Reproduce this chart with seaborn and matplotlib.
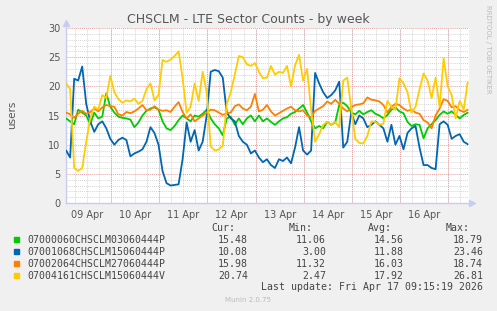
import pandas as pd
import matplotlib
matplotlib.use("Agg")
import matplotlib.pyplot as plt
import matplotlib.dates as mdates
from matplotlib.ticker import MultipleLocator
from matplotlib.patches import Rectangle
import seaborn as sns

# samples every 2 hours
start = "2026-04-09 01:40"
step = "2h"

green = [14.5, 14.0, 13.5, 16.0, 15.5, 15.0, 13.5, 15.5, 14.5, 14.8,
         18.8, 16.5, 15.5, 14.8, 14.6, 14.5, 14.3, 13.0, 13.8, 15.0,
         15.8, 16.2, 16.4, 16.0, 14.0, 12.8, 12.5, 13.2, 14.2, 15.0,
         14.5, 14.0, 15.0, 14.8, 15.3, 16.0, 14.5, 13.5, 12.8, 11.6,
         14.5, 14.8, 13.4, 14.5, 13.5, 14.5, 15.0, 14.0, 15.0, 14.0,
         14.5, 13.9, 13.4, 14.0, 14.5, 14.7, 15.3, 15.6, 16.2, 16.8,
         15.5, 14.0, 12.8, 13.2, 12.8, 13.9, 13.4, 13.8, 16.8, 17.2,
         16.6, 15.5, 15.2, 15.8, 15.2, 15.6, 15.9, 15.3, 15.0, 14.5,
         15.1, 16.0, 16.4, 15.7, 15.4, 13.9, 13.2, 13.5, 13.4, 11.1,
         12.8, 13.5, 14.2, 15.1, 15.7, 15.3, 15.7, 15.1, 14.5, 15.1,
         15.48]
blue = [9.0, 7.8, 21.3, 21.0, 23.4, 17.0, 14.0, 12.2, 13.5, 14.0,
        12.8, 11.0, 10.0, 10.8, 11.2, 10.8, 8.0, 8.5, 8.8, 9.2,
        10.5, 13.0, 12.0, 10.0, 5.5, 3.4, 3.0, 3.1, 3.2, 7.5,
        13.8, 10.5, 12.5, 9.0, 10.5, 15.0, 22.5, 22.8, 22.6, 21.5,
        15.5, 14.5, 14.0, 11.5, 10.5, 10.0, 8.5, 9.0, 7.8, 7.0,
        7.5, 6.5, 6.0, 7.5, 7.2, 7.8, 6.8, 9.5, 13.0, 9.0,
        8.3, 9.0, 22.3, 20.5, 19.0, 18.0, 18.5, 19.3, 20.8, 9.5,
        10.5, 15.5, 13.5, 15.0, 14.5, 13.0, 13.4, 14.0, 13.4, 12.8,
        10.5, 13.4, 10.0, 11.5, 9.2, 12.0, 12.8, 13.2, 9.5, 6.5,
        6.5, 6.0, 5.8, 13.5, 14.0, 13.4, 11.0, 11.5, 11.8, 10.5,
        10.08]
orange = [15.5, 15.2, 14.6, 15.3, 15.8, 15.3, 15.6, 16.2, 15.7, 16.4,
          16.8, 16.6, 16.5, 15.2, 15.0, 15.6, 15.4, 15.7, 16.2, 16.8,
          15.9, 16.0, 16.6, 16.0, 15.8, 15.9, 15.6, 16.5, 17.3, 15.6,
          14.5, 15.2, 14.0, 14.5, 15.0, 15.5, 16.0, 15.9, 15.5, 15.1,
          15.4, 15.5, 16.6, 16.9, 16.2, 15.9, 16.5, 18.7, 15.7, 16.0,
          16.8, 15.7, 15.0, 15.4, 15.8, 16.2, 16.5, 15.9, 15.7, 15.9,
          15.0, 14.7, 15.8, 16.2, 16.6, 17.4, 17.0, 17.7, 17.0, 16.2,
          15.7, 16.4, 16.8, 16.9, 17.1, 18.1, 17.7, 17.6, 17.4, 16.8,
          15.5, 16.5, 17.0, 16.8, 16.2, 15.8, 16.0, 15.5, 15.3, 14.2,
          13.8, 12.8, 15.0, 16.2, 17.8, 17.5, 16.4, 16.6, 15.9, 15.6,
          15.98]
yellow = [20.5, 19.5, 6.0, 5.5, 6.0, 10.5, 14.5, 16.5, 16.0, 18.5,
          18.0, 21.8, 19.0, 17.8, 17.2, 17.6, 17.4, 17.9, 17.0, 17.5,
          19.5, 20.5, 17.6, 18.5, 24.5, 24.2, 24.6, 25.2, 26.0, 21.4,
          15.5, 16.5, 20.5, 17.5, 22.5, 19.0, 9.7, 9.0, 9.2, 9.8,
          17.0, 19.0, 22.0, 25.2, 25.0, 23.8, 23.5, 24.0, 22.5, 21.4,
          21.5, 23.5, 22.0, 22.5, 22.3, 23.5, 20.0, 23.6, 25.4, 21.0,
          23.0, 16.0, 10.5, 11.8, 13.4, 13.9, 13.4, 13.9, 13.0, 21.0,
          21.5, 16.2, 11.0, 10.3, 10.2, 11.5, 14.0, 13.9, 13.4, 13.6,
          17.5, 16.5, 16.0, 21.4, 20.5, 19.0, 15.5, 16.5, 19.5, 22.2,
          21.0, 18.0, 21.5, 16.5, 24.8, 20.0, 18.5, 14.5, 17.5, 16.0,
          20.74]

names = ["07000060CHSCLM03060444P", "07001068CHSCLM15060444P",
         "07002064CHSCLM27060444P", "07004161CHSCLM15060444V"]
colors = ["#00CC00", "#0066B3", "#FF8000", "#FFCC00"]
cur = ["15.48", "10.08", "15.98", "20.74"]
mins = ["11.06", "3.00", "11.32", "2.47"]
avgs = ["14.56", "11.88", "16.03", "17.92"]
maxs = ["18.79", "23.46", "18.74", "26.81"]
day_labels = ["09 Apr", "10 Apr", "11 Apr", "12 Apr", "13 Apr", "14 Apr", "15 Apr", "16 Apr"]

times = pd.date_range(start, periods=len(green), freq=step)
df = pd.DataFrame({"time": times, names[0]: green, names[1]: blue,
                   names[2]: orange, names[3]: yellow})
df = df.melt(id_vars="time", var_name="series", value_name="users")

sns.set_theme(style="white")
plt.rcParams['font.family'] = ['DejaVu Sans']

W, H = 497, 311
fig = plt.figure(figsize=(W / 100, H / 100), dpi=100, facecolor="#F0F0F0")
ax = fig.add_axes([66 / W, 108 / H, 403 / W, 175 / H])
ax.set_facecolor("white")

sns.lineplot(data=df, x="time", y="users", hue="series", hue_order=names,
             palette=colors, linewidth=1.3, legend=False, ax=ax, zorder=3)

# axes ranges
ax.set_ylim(0, 30)
ax.set_xlim(pd.Timestamp("2026-04-09 01:36"), pd.Timestamp("2026-04-17 10:18"))

# grid like rrdtool
ax.set_axisbelow(True)
ax.yaxis.set_major_locator(MultipleLocator(5))
ax.yaxis.set_minor_locator(MultipleLocator(1))
noons = pd.date_range("2026-04-09 12:00", periods=len(day_labels), freq="D")
ax.set_xticks(noons)
ax.set_xticklabels(day_labels)
ax.xaxis.set_minor_locator(mdates.HourLocator(byhour=[0, 6, 12, 18]))
ax.xaxis.remove_overlapping_locs = False
ax.grid(which="minor", color="#d6d6d6", linestyle=(0, (1, 1)), linewidth=0.7)
ax.grid(which="major", axis="y", color="#e7a0a0", linestyle=(0, (1, 1)), linewidth=0.7)
ax.grid(which="major", axis="x", visible=False)
for d in pd.date_range("2026-04-10", "2026-04-17", freq="D"):
    ax.axvline(d, color="#e7a0a0", linestyle=(0, (1, 1)), linewidth=0.7, zorder=1)

ax.tick_params(axis="both", which="both", length=0, labelsize=7, labelcolor="#555555")
ax.tick_params(axis="x", pad=5)
ax.tick_params(axis="y", pad=4)
ax.set_xlabel("")
ax.set_ylabel("")

for s in ["top", "right"]:
    ax.spines[s].set_visible(False)
for s in ["left", "bottom"]:
    ax.spines[s].set_color("#C8CCF0")
    ax.spines[s].set_linewidth(1.0)
ax.plot([0], [1.03], marker="^", color="#C8CCF0", markersize=4,
        transform=ax.transAxes, clip_on=False)
ax.plot([1.008], [0], marker=">", color="#C8CCF0", markersize=4,
        transform=ax.transAxes, clip_on=False)

# texts
fig.text(0.5, 1 - 19 / H, "CHSCLM - LTE Sector Counts - by week",
         ha="center", va="center", fontsize=9, color="#555555")
fig.text(12 / W, 1 - 115 / H, "users", rotation=90, ha="center", va="center",
         fontsize=7.5, color="#555555")
fig.text(488 / W, 1 - 5 / H, "RRDTOOL / TOBI OETIKER", rotation=270,
         ha="center", va="top", fontsize=5, color="#bbbbbb")

mono = "DejaVu Sans Mono"
lfs = 7.1
tc = "#444444"
header_y = 1 - 228 / H
for label, xr in zip(["Cur:", "Min:", "Avg:", "Max:"], [235, 313, 392, 470]):
    fig.text(xr / W, header_y, label, ha="right", va="center",
             family=mono, fontsize=lfs, color=tc)
for i, name in enumerate(names):
    yy = 1 - (239.7 + 12 * i) / H
    fig.add_artist(Rectangle((14 / W, yy - 2.7 / H), 5.3 / W, 5.3 / H,
                             transform=fig.transFigure, color=colors[i]))
    fig.text(27 / W, yy, name, ha="left", va="center", family=mono,
             fontsize=lfs, color=tc)
    for val, xr in zip([cur[i], mins[i], avgs[i], maxs[i]], [248, 326, 404, 483]):
        fig.text(xr / W, yy, val, ha="right", va="center", family=mono,
                 fontsize=lfs, color=tc)
fig.text(483 / W, 1 - 287 / H, "Last update: Fri Apr 17 09:15:19 2026",
         ha="right", va="center", family=mono, fontsize=lfs, color=tc)
fig.text(248 / W, 1 - 300 / H, "Munin 2.0.75", ha="center", va="center",
         fontsize=5, color="#bbbbbb")

fig.savefig("out.png", dpi=100, facecolor=fig.get_facecolor())
